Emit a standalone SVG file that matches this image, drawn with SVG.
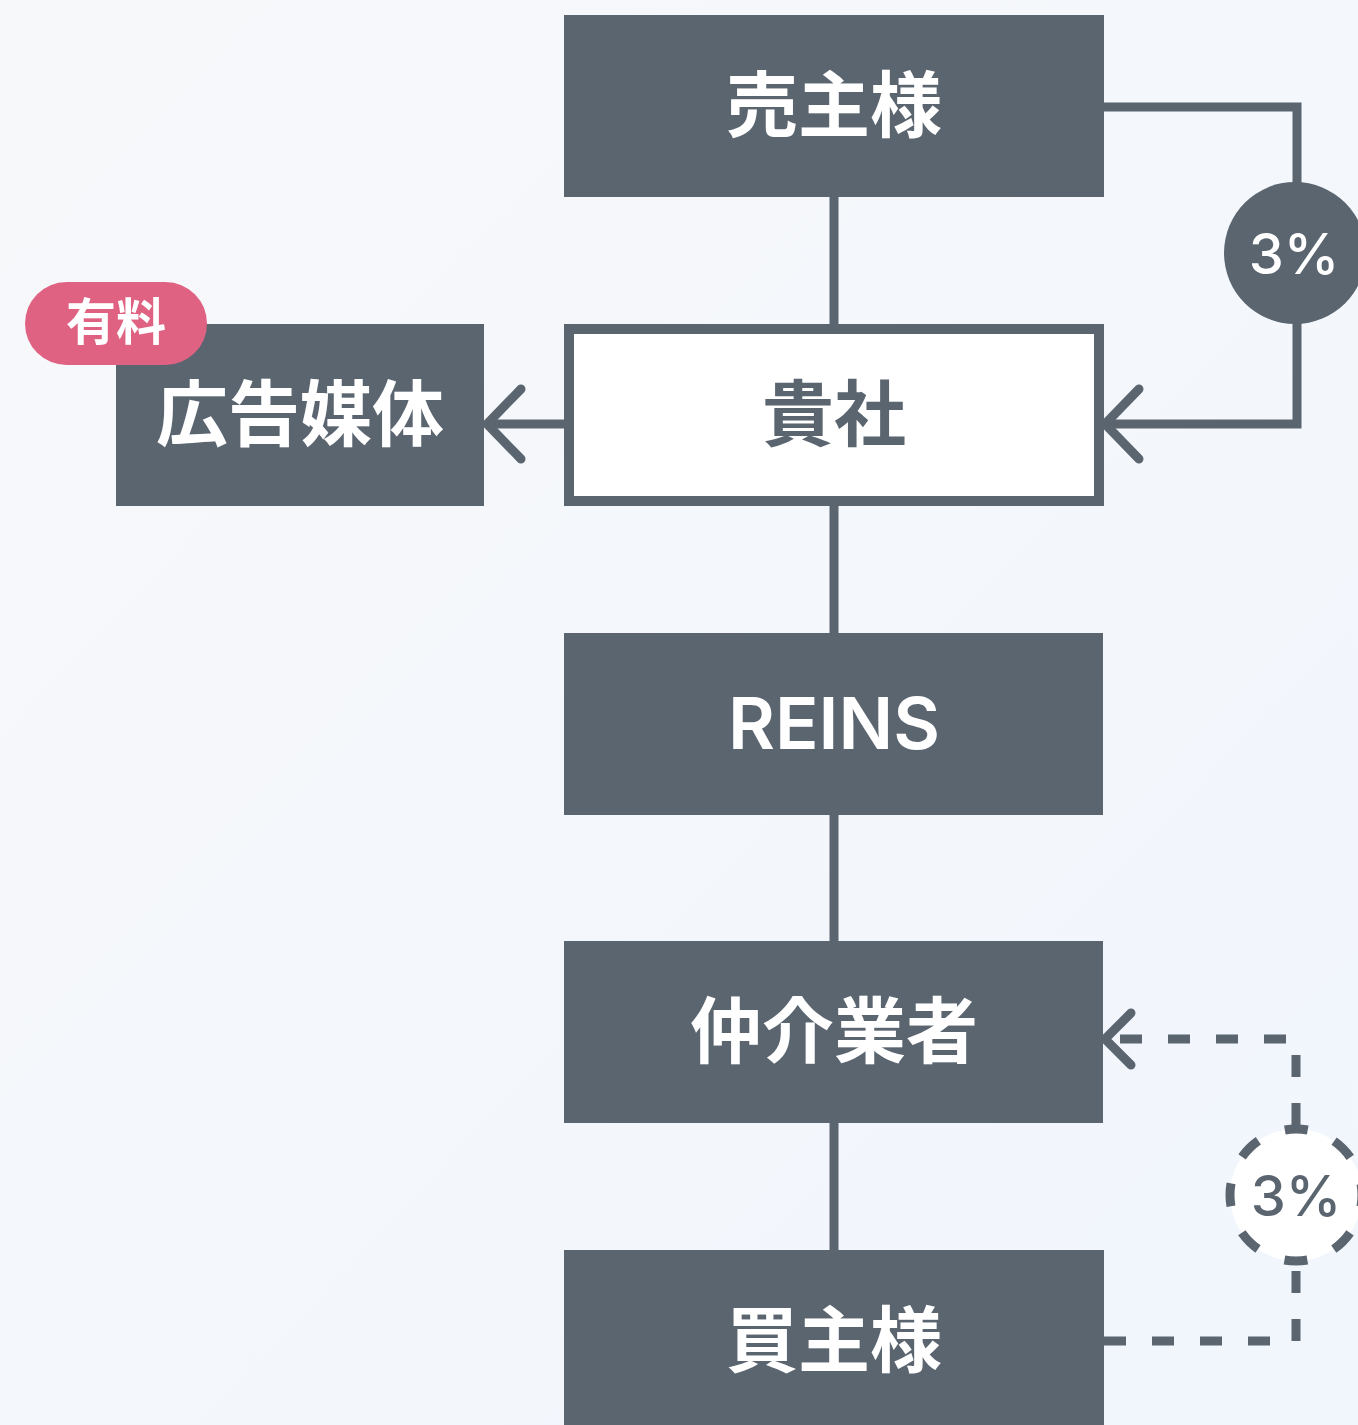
<svg xmlns="http://www.w3.org/2000/svg" width="1358" height="1425" viewBox="0 0 1358 1425">
  <defs>
    <linearGradient id="bg" x1="0" y1="0" x2="1" y2="1">
      <stop offset="0" stop-color="#F7F8FA"/>
      <stop offset="1" stop-color="#F1F6FD"/>
    </linearGradient>
    <marker id="chev" markerUnits="userSpaceOnUse" viewBox="-40 -40 50 80" refX="0" refY="0" markerWidth="50" markerHeight="80" orient="auto" overflow="visible">
      <path d="M -34 -35 L 0 0 L -34 35" fill="none" stroke="#5B6570" stroke-width="9" stroke-linecap="round" stroke-linejoin="miter"/>
    </marker>
    <marker id="chevS" markerUnits="userSpaceOnUse" viewBox="-40 -40 50 80" refX="0" refY="0" markerWidth="50" markerHeight="80" orient="auto" overflow="visible">
      <path d="M -26 -26 L 0 0 L -26 26" fill="none" stroke="#5B6570" stroke-width="9" stroke-linecap="round"/>
    </marker>
    <style>
      .box { fill: #5B6570; }
      .lbl { font-family: "Noto Sans CJK JP", "Noto Sans", sans-serif; font-weight: 700; font-size: 72px; fill: #FFFFFF; text-anchor: middle; dominant-baseline: central; }
      .lat { font-family: Inter, "Noto Sans CJK JP", sans-serif; font-weight: 600; }
      .dark { fill: #5B6570; }
      .line { fill: none; stroke: #5B6570; stroke-width: 9; }
      .dash { fill: none; stroke: #5B6570; stroke-width: 9; stroke-dasharray: 22 26; }
      .pct { font-family: Inter, "Noto Sans", sans-serif; font-weight: 500; font-size: 56px; text-anchor: middle; dominant-baseline: central; }
    </style>
  </defs>
  <rect x="0" y="0" width="1358" height="1425" fill="url(#bg)"/>

  <g id="connectors">
    <line class="line" x1="834" y1="197" x2="834" y2="324"/>
    <line class="line" x1="834" y1="506" x2="834" y2="633"/>
    <line class="line" x1="834" y1="815" x2="834" y2="941"/>
    <line class="line" x1="834" y1="1123" x2="834" y2="1250"/>
    <path class="line" stroke-width="10" d="M 564 424 H 487" marker-end="url(#chev)"/>
    <path class="line" stroke-width="10" d="M 1104 107 H 1297 V 424 H 1105" marker-end="url(#chev)"/>
    <path class="dash" d="M 1104 1341 H 1296 V 1265"/>
    <path class="dash" d="M 1296 1125 V 1039 H 1105" marker-end="url(#chevS)"/>
  </g>

  <g id="badge-seller-pct">
    <circle cx="1295" cy="253" r="71" fill="#5B6570"/>
    <text class="pct" x="1294" y="254" fill="#FFFFFF">3%</text>
  </g>
  <g id="badge-buyer-pct">
    <circle cx="1296" cy="1195" r="66" fill="#FFFFFF" stroke="#5B6570" stroke-width="9" stroke-dasharray="23 28.8" stroke-dashoffset="11.5"/>
    <text class="pct" x="1296" y="1196" fill="#5B6570">3%</text>
  </g>

  <g id="seller">
    <rect class="box" x="564" y="15" width="540" height="182"/>
    <text class="lbl" x="834" y="99">売主様</text>
  </g>
  <g id="company">
    <rect x="569" y="329" width="530" height="172" fill="#FFFFFF" stroke="#5B6570" stroke-width="10"/>
    <text class="lbl dark" x="834" y="408">貴社</text>
  </g>
  <g id="ad-media">
    <rect class="box" x="116" y="324" width="368" height="182"/>
    <text class="lbl" x="300" y="408">広告媒体</text>
  </g>
  <g id="paid-tag">
    <rect x="25" y="282" width="182" height="83" rx="41.5" fill="#E06282"/>
    <text class="lbl" x="116" y="318" style="font-size:50px">有料</text>
  </g>
  <g id="reins">
    <rect class="box" x="564" y="633" width="539" height="182"/>
    <text class="lbl lat" x="834" y="722">REINS</text>
  </g>
  <g id="broker">
    <rect class="box" x="564" y="941" width="539" height="182"/>
    <text class="lbl" x="834" y="1025">仲介業者</text>
  </g>
  <g id="buyer">
    <rect class="box" x="564" y="1250" width="540" height="182"/>
    <text class="lbl" x="834" y="1334">買主様</text>
  </g>
</svg>
